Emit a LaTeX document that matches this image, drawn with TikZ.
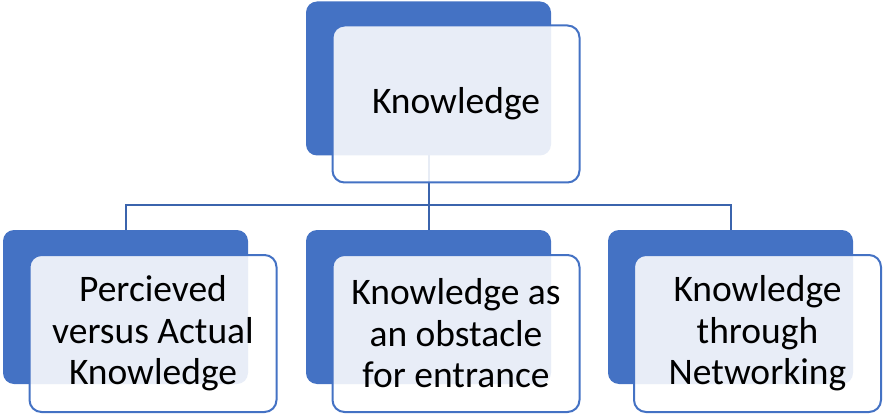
\documentclass[tikz,border=0pt]{standalone}
\usepackage{fontspec}
\setmainfont{Carlito}
\definecolor{accent}{HTML}{4472C4}
\definecolor{linkc}{HTML}{3B64AD}
\begin{document}
\begin{tikzpicture}[x=1pt,y=-1pt,
  backbox/.style={draw=none, fill=accent, rounded corners=11pt, inner sep=0pt,
    minimum width=245pt, minimum height=154pt},
  frontbox/.style={draw=accent, line width=2pt, fill=white, fill opacity=0.88, text opacity=1,
    rounded corners=12pt, inner sep=0pt, minimum width=247pt, minimum height=157pt,
    align=center, font=\fontsize{37.5}{41.5}\selectfont},
  link/.style={draw=linkc, line width=2pt}]
\useasboundingbox (0,0) rectangle (883,414);
\coordinate (j) at (428.5,205);
% placeholders for connector anchors
\node[backbox, opacity=0] (b0) at (428.5,78.5) {};
\node[backbox, opacity=0] (b1) at (125.5,307) {};
\node[backbox, opacity=0] (b2) at (428.5,307) {};
\node[backbox, opacity=0] (b3) at (730.5,307) {};
\draw[link] (b0.center) -- (b2.north);
\draw[link] (b1.north) |- (j) -| (b3.north);
% visible boxes
\node[backbox] (k0) at (b0) {};
\node[frontbox] (w0) at (456,104) {Knowledge};
\node[backbox] (k1) at (b1) {};
\node[frontbox] (w1) at (153,333.5) {Percieved\\versus Actual\\Knowledge};
\node[backbox] (k2) at (b2) {};
\node[frontbox] (w2) at (456,333.5) {Knowledge as\\an obstacle\\for entrance};
\node[backbox] (k3) at (b3) {};
\node[frontbox] (w3) at (757.5,333.5) {Knowledge\\through\\Networking};
\end{tikzpicture}
\end{document}
